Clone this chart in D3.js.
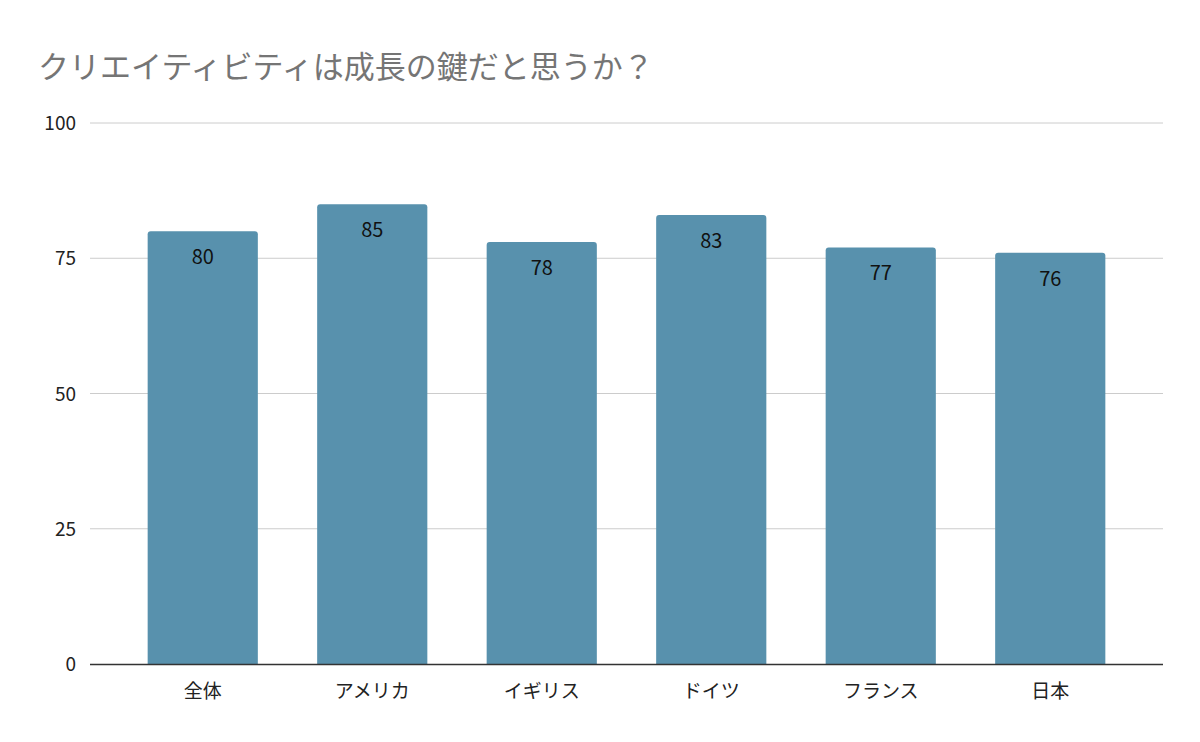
<!DOCTYPE html>
<html><head><meta charset="utf-8">
<script src="https://cdn.jsdelivr.net/npm/d3@7"></script>
<style>body{margin:0;background:#fff}text{font-family:"Noto Sans CJK JP",Arial,sans-serif}</style>
</head><body>
<svg id="c" width="1200" height="742"></svg>
<script>
const categories=["全体","アメリカ","イギリス","ドイツ","フランス","日本"];
const values=[80,85,78,83,77,76];
const ticks=[0,25,50,75,100];
const svg=d3.select("#c");
svg.append("rect").attr("width",1200).attr("height",742).attr("fill","#fff");
const y=d3.scaleLinear().domain([0,100]).range([664,123]);
const x=d3.scaleBand().domain(categories).range([118,1135]).paddingInner(0.35).paddingOuter(0.175);
svg.append("text").attr("x",38).attr("y",78).attr("fill","#757575").attr("font-size",31).text("クリエイティビティは成長の鍵だと思うか？");
ticks.forEach(t=>{
 if(t>0) svg.append("line").attr("x1",90).attr("x2",1163).attr("y1",y(t)).attr("y2",y(t)).attr("stroke","#ccc").attr("stroke-width",1);
 svg.append("text").attr("x",76).attr("y",y(t)+7).attr("text-anchor","end").attr("font-size",19).attr("font-family","Arial, Liberation Sans").attr("fill","#222").text(t);
});
const g=svg.append("g");
categories.forEach((c,i)=>{
 const x0=x(c),w=x.bandwidth(),yt=y(values[i]),r=3;
 g.append("path").attr("d",`M${x0},664V${yt+r}Q${x0},${yt} ${x0+r},${yt}H${x0+w-r}Q${x0+w},${yt} ${x0+w},${yt+r}V664Z`).attr("fill","#5891ad");
 g.append("text").attr("x",x0+w/2).attr("y",yt+33).attr("text-anchor","middle").attr("font-size",20).attr("font-family","Arial, Liberation Sans").attr("fill","#111").text(values[i]);
 svg.append("text").attr("x",x0+w/2).attr("y",698).attr("text-anchor","middle").attr("font-size",19).attr("fill","#222").text(c);
});
svg.append("line").attr("x1",90).attr("x2",1163).attr("y1",664.5).attr("y2",664.5).attr("stroke","#333").attr("stroke-width",1.3);
</script></body></html>
